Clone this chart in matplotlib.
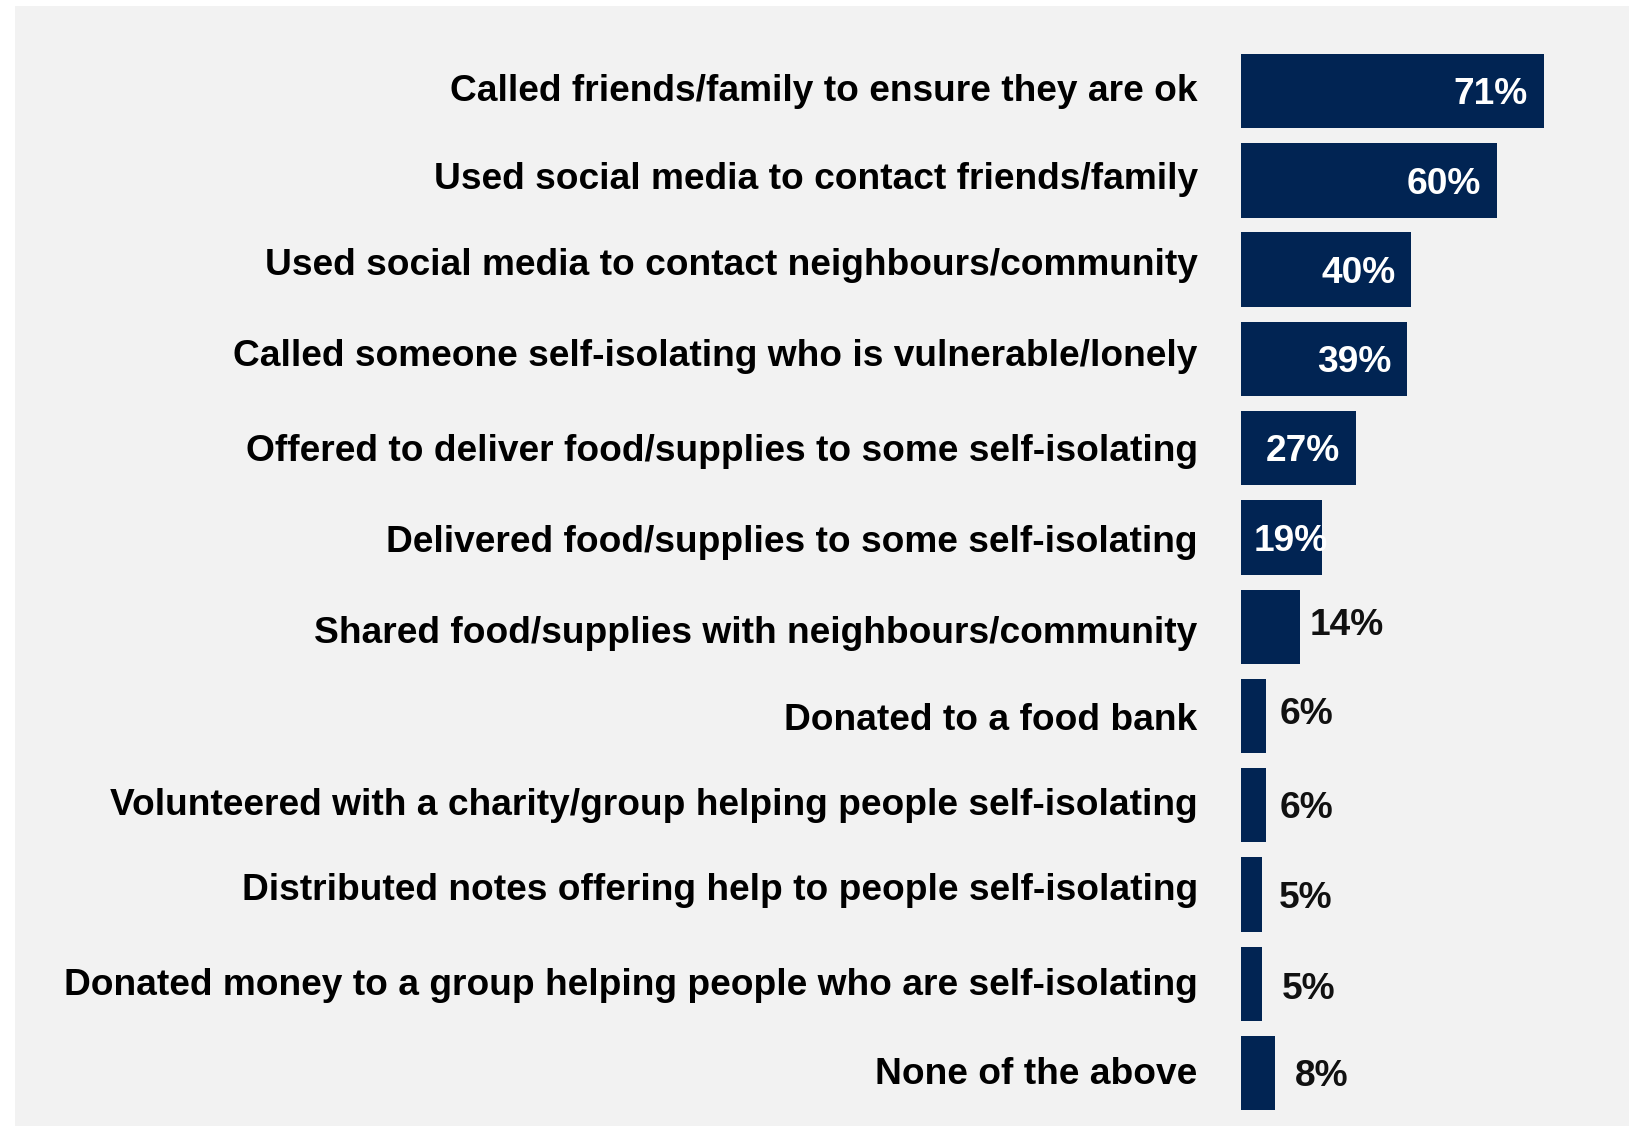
import matplotlib
matplotlib.use("Agg")
import matplotlib.pyplot as plt
from matplotlib.patches import Rectangle
from matplotlib.transforms import offset_copy

actions = [
    "Called friends/family to ensure they are ok",
    "Used social media to contact friends/family",
    "Used social media to contact neighbours/community",
    "Called someone self-isolating who is vulnerable/lonely",
    "Offered to deliver food/supplies to some self-isolating",
    "Delivered food/supplies to some self-isolating",
    "Shared food/supplies with neighbours/community",
    "Donated to a food bank",
    "Volunteered with a charity/group helping people self-isolating",
    "Distributed notes offering help to people self-isolating",
    "Donated money to a group helping people who are self-isolating",
    "None of the above",
]
shares = [71, 60, 40, 39, 27, 19, 14, 6, 6, 5, 5, 8]

# hand placement of the text, as in the original slide (pixels)
label_lift = [3.8, 4.3, 7.5, 6.0, 0.0, -1.5, -2.6, -1.2, 3.7, 7.5, 1.9, 2.6]
value_lift = [0, 0, 0, 0, 0, 0, 5, 5, 0, 0, -2, 0]
outside_gap = {6: 9, 7: 13, 8: 13, 9: 17, 10: 20, 11: 20}

navy = "#012453"
grey = "#f2f2f2"
fs = 26.75
plt.rcParams["font.family"] = ["Liberation Sans", "DejaVu Sans"]

W, H = 1643, 1126
fig = plt.figure(figsize=(W / 100, H / 100), dpi=100, facecolor="white")
fig.patches.append(Rectangle((15 / W, 0), (1629 - 15) / W, (H - 6) / H,
                             transform=fig.transFigure, facecolor=grey,
                             edgecolor="none", zorder=-10))

px_per_pct = 4.267
x0, x1 = 1240.7, 1629
top_px, bot_px = 46.5, 1117.6
ax = fig.add_axes([x0 / W, 1 - bot_px / H, (x1 - x0) / W, (bot_px - top_px) / H])
ax.set_facecolor("none")

ypos = list(range(len(actions)))
ax.barh(ypos, shares, height=0.833, color=navy)
ax.set_xlim(0, (x1 - x0) / px_per_pct)
ax.set_ylim(len(actions) - 0.5, -0.5)
ax.set_xticks([])
ax.set_yticks([])
for s in ax.spines.values():
    s.set_visible(False)

# baseline sits half a cap height below the bar centre
half_cap = 0.716 * fs * 100 / 72 / 2

for i, name in enumerate(actions):
    tr = offset_copy(ax.transData, fig=fig, x=-43, y=-half_cap + label_lift[i], units="dots")
    ax.text(0, i, name, transform=tr, ha="right", va="baseline",
            fontsize=fs, fontweight="bold", color="black")

for i, v in enumerate(shares):
    txt = f"{v}%"
    dy = -half_cap + value_lift[i]
    if v >= 20:
        tr = offset_copy(ax.transData, fig=fig, x=-15.7, y=dy, units="dots")
        ax.text(v, i, txt, transform=tr, ha="right", va="baseline", color="white",
                fontsize=fs, fontweight="bold")
    elif v >= 15:
        # this one starts near the base and spills past the bar end
        tr = offset_copy(ax.transData, fig=fig, x=13.3, y=dy, units="dots")
        ax.text(0, i, txt, transform=tr, ha="left", va="baseline", color="white",
                fontsize=fs, fontweight="bold")
    else:
        tr = offset_copy(ax.transData, fig=fig, x=outside_gap[i], y=dy, units="dots")
        ax.text(v, i, txt, transform=tr, ha="left", va="baseline", color="#111111",
                fontsize=fs, fontweight="bold")

fig.savefig("out.png", dpi=100, facecolor="white")
